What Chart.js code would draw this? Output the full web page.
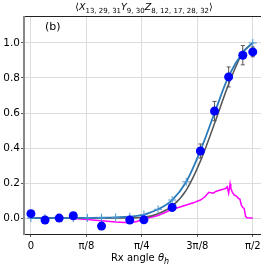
<!DOCTYPE html>
<html>
<head>
<meta charset="utf-8">
<script src="https://cdn.jsdelivr.net/npm/chart.js@4.4.0/dist/chart.umd.min.js"></script>
<style>html,body{margin:0;padding:0;background:#fff}</style>
</head>
<body>
<canvas id="myChart" width="266" height="265"></canvas>
<script>
const HALF_PI = Math.PI / 2;

// measured points (blue dots) with error bars
const expX = [0, 0.1, 0.2, 0.3, 0.5, 0.7, 0.8, 1.0, 1.2, 1.3, 1.4, 1.5, HALF_PI];
const expY = [0.025, -0.011, 0.0, 0.013, -0.046, -0.011, -0.01, 0.061, 0.383, 0.611, 0.806, 0.93, 0.949];
const expErr = [0.015, 0.02, 0.012, 0.015, 0.02, 0.015, 0.015, 0.02, 0.04, 0.055, 0.057, 0.055, 0.028];

// theory curve (blue, + markers)
const theoX = [0, 0.1, 0.2, 0.3, 0.4, 0.5, 0.6, 0.7, 0.8, 0.9, 1.0, 1.1, 1.2, 1.3, 1.4, 1.5, HALF_PI];
const theoY = [0, 0, 0, 0, 0.001, 0.002, 0.004, 0.008, 0.02, 0.05, 0.103, 0.207, 0.385, 0.6, 0.81, 0.945, 1.0];

// noisy simulation (gray)
const simY = [0, 0, 0, 0, 0, 0, 0, 0.001, 0.004, 0.025, 0.068, 0.16, 0.325, 0.54, 0.765, 0.945, 1.0];

// difference curve (magenta)
const diffX = [0, 0.1, 0.2, 0.3, 0.4, 0.5, 0.6, 0.7, 0.75, 0.8, 0.85, 0.9, 0.95, 1.0, 1.05, 1.1, 1.15, 1.2, 1.23,
  1.26, 1.29, 1.31, 1.34, 1.36, 1.38, 1.39, 1.40, 1.41, 1.415, 1.425, 1.44, 1.455, 1.47, 1.48, 1.49, 1.50, 1.51,
  1.52, 1.53, 1.55, HALF_PI];
const diffY = [0, 0, 0, -0.002, -0.008, -0.015, -0.022, -0.027, -0.02, -0.005, 0.005, 0.015, 0.032, 0.05, 0.062,
  0.075, 0.087, 0.103, 0.12, 0.147, 0.142, 0.152, 0.16, 0.164, 0.17, 0.179, 0.142, 0.195, 0.17, 0.15, 0.131, 0.125,
  0.112, 0.107, 0.074, 0.06, 0.055, 0.01, 0.002, 0.0, 0.0];

const xTicks = [0, Math.PI / 8, Math.PI / 4, 3 * Math.PI / 8, HALF_PI];
const xTickLabels = ["0", "π/8", "π/4", "3π/8", "π/2"];
const yTicks = [0, 0.2, 0.4, 0.6, 0.8, 1.0];

const pts = (xs, ys) => xs.map((x, i) => ({ x: x, y: ys[i] }));
const FONT = "DejaVu Sans";

function drawParts(ctx, parts, cx, cy, size) {
  const sub = Math.round(size * 0.75);
  let total = 0;
  parts.forEach(p => {
    ctx.font = (p.it ? "italic " : "") + (p.sub ? sub : size) + "px '" + FONT + "'";
    p.w = ctx.measureText(p.t).width;
    total += p.w;
  });
  let x = cx - total / 2;
  ctx.textAlign = "left";
  ctx.textBaseline = "alphabetic";
  ctx.fillStyle = "#000";
  parts.forEach(p => {
    ctx.font = (p.it ? "italic " : "") + (p.sub ? sub : size) + "px '" + FONT + "'";
    ctx.fillText(p.t, x, cy + (p.sub ? 2.5 : 0));
    x += p.w;
  });
}

const decorations = {
  id: "decorations",
  beforeDatasetDraw(chart, args) {
    if (args.index !== 3) return;
    const ctx = chart.ctx, xs = chart.scales.x, ys = chart.scales.y;
    ctx.save();
    ctx.strokeStyle = "#555";
    ctx.lineWidth = 1;
    expX.forEach((x, i) => {
      const px = xs.getPixelForValue(x);
      const top = ys.getPixelForValue(expY[i] + expErr[i]);
      const bot = ys.getPixelForValue(expY[i] - expErr[i]);
      ctx.beginPath();
      ctx.moveTo(px, top); ctx.lineTo(px, bot);
      ctx.moveTo(px - 2, top); ctx.lineTo(px + 2, top);
      ctx.moveTo(px - 2, bot); ctx.lineTo(px + 2, bot);
      ctx.stroke();
    });
    ctx.restore();
  },
  afterDraw(chart) {
    const ctx = chart.ctx, a = chart.chartArea;
    ctx.save();
    ctx.lineWidth = 1;
    ctx.strokeStyle = "#222";
    ctx.beginPath();
    ctx.moveTo(a.left, a.top + 0.5); ctx.lineTo(a.right, a.top + 0.5);
    ctx.moveTo(a.left, a.bottom + 0.5); ctx.lineTo(a.right, a.bottom + 0.5);
    ctx.stroke();
    ctx.strokeStyle = "#888";
    ctx.lineWidth = 2;
    ctx.beginPath();
    ctx.moveTo(a.left, a.top); ctx.lineTo(a.left, a.bottom + 1);
    ctx.stroke();

    ctx.font = "11px '" + FONT + "'";
    ctx.fillStyle = "#000";
    ctx.textAlign = "left";
    ctx.textBaseline = "middle";
    ctx.fillText("(b)", 45, 27);

    drawParts(ctx, [
      { t: "⟨" }, { t: "X", it: true }, { t: "13, 29, 31", sub: true },
      { t: "Y", it: true }, { t: "9, 30", sub: true },
      { t: "Z", it: true }, { t: "8, 12, 17, 28, 32", sub: true }, { t: "⟩" }
    ], 144, 10, 9.5);

    drawParts(ctx, [
      { t: "Rx angle " }, { t: "θ", it: true }, { t: "h", it: true, sub: true }
    ], 140, 261, 10);
    ctx.restore();
  }
};

new Chart(document.getElementById("myChart").getContext("2d"), {
  type: "scatter",
  data: {
    datasets: [
      {
        data: pts(diffX, diffY),
        showLine: true,
        borderColor: "#ff00ff",
        borderWidth: 1.5,
        pointRadius: 0,
        order: 4,
      },
      {
        data: pts(theoX, simY),
        showLine: true,
        borderColor: "#555555",
        borderWidth: 1.5,
        pointRadius: 0,
        cubicInterpolationMode: "monotone",
        order: 3,
      },
      {
        data: pts(theoX, theoY),
        showLine: true,
        borderColor: "#2b7bb9",
        borderWidth: 1.8,
        pointStyle: "cross",
        pointRadius: 4,
        pointBorderColor: "#4a96d2",
        pointBorderWidth: 1,
        cubicInterpolationMode: "monotone",
        order: 2,
      },
      {
        data: pts(expX, expY),
        showLine: false,
        pointRadius: 4.5,
        pointBackgroundColor: "#0000ff",
        pointBorderColor: "#0000ff",
        pointBorderWidth: 0,
        order: 1,
      },
    ],
  },
  options: {
    responsive: false,
    animation: false,
    events: [],
    layout: { padding: { top: 16, right: 2, left: 0, bottom: 0 } },
    plugins: { legend: { display: false }, tooltip: { enabled: false } },
    scales: {
      x: {
        type: "linear",
        min: -0.049,
        max: 1.629,
        afterBuildTicks: (axis) => { axis.ticks = xTicks.map(v => ({ value: v })); },
        afterFit: (axis) => { axis.height = 31; },
        ticks: {
          callback: (v) => {
            const i = xTicks.findIndex(t => Math.abs(t - v) < 1e-6);
            return i >= 0 ? xTickLabels[i] : "";
          },
          font: { family: FONT, size: 10 },
          color: "#000",
          padding: 3,
          maxRotation: 0,
        },
        grid: { color: "#dcdcdc", lineWidth: 1, tickLength: 3, tickColor: "#555" },
        border: { display: false },
      },
      y: {
        min: -0.091,
        max: 1.154,
        afterBuildTicks: (axis) => { axis.ticks = yTicks.map(v => ({ value: v })); },
        afterFit: (axis) => { axis.width = 24; },
        ticks: {
          callback: (v) => v.toFixed(1),
          font: { family: FONT, size: 10.5 },
          color: "#000",
          padding: 1,
        },
        grid: { color: "#dcdcdc", lineWidth: 1, tickLength: 3, tickColor: "#555" },
        border: { display: false },
      },
    },
  },
  plugins: [decorations],
});
</script>
</body>
</html>
